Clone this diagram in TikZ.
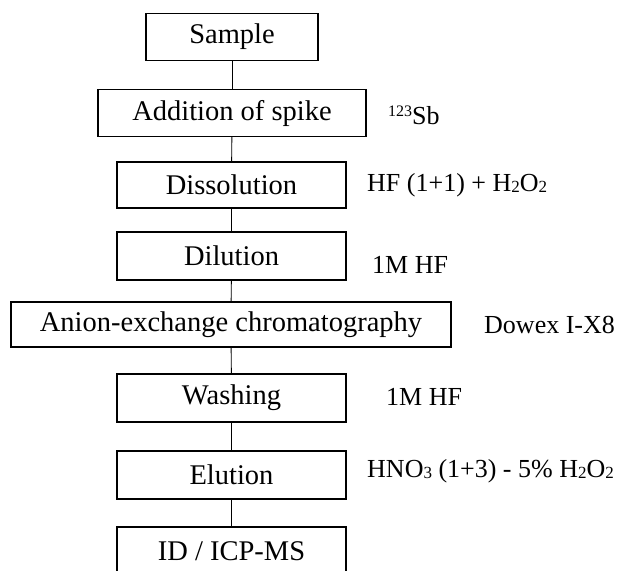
\documentclass[tikz,border=0pt]{standalone}
\usepackage{fontspec}
\setmainfont{Liberation Serif}
\newcommand\chemsub[1]{\raisebox{-1pt}{\fontsize{17}{17}\selectfont #1}}
\newcommand\isosup[1]{\raisebox{8pt}{\fontsize{16}{16}\selectfont #1}}
\begin{document}
\begin{tikzpicture}[x=1pt,y=-1pt,
  stepbox/.style={draw=black,line width=1.1pt,minimum height=47pt,inner sep=0pt,
     font=\fontsize{28.5}{30}\selectfont},
  conn/.style={draw=black,line width=0.9pt},
  reagent/.style={anchor=base west,inner sep=0pt,font=\fontsize{26}{28}\selectfont}]
\useasboundingbox (0,0) rectangle (617,570);
\clip (0,0) rectangle (617,570);
\node[stepbox,minimum width=172pt] (sample) at (232,37) {Sample};
\node[stepbox,minimum width=268pt] (spike) at (232,113) {Addition of spike};
\node[stepbox,minimum width=229pt,minimum height=46pt] (dissol) at (231.5,185) {Dissolution};
\node[stepbox,minimum width=229pt,minimum height=48pt] (dilut) at (231.5,256) {Dilution};
\node[stepbox,minimum width=440pt,minimum height=45pt] (anion) at (231,324.5) {Anion-exchange chromatography};
\node[stepbox,minimum width=229pt,minimum height=48pt] (wash) at (231.5,398) {Washing};
\node[stepbox,minimum width=229pt,minimum height=48pt] (elut) at (231.5,475) {Elution};
\node[stepbox,minimum width=229pt,minimum height=48pt] (icp) at (231.5,551) {ID / ICP-MS};
\draw[conn] (sample) -- (spike);
\draw[conn] (spike) -- (dissol);
\draw[conn] (dissol) -- (dilut);
\draw[conn] (dilut) -- (anion);
\draw[conn] (anion) -- (wash);
\draw[conn] (wash) -- (elut);
\draw[conn] (elut) -- (icp);
\node[reagent] (lspike) at (388,124) {\isosup{123}Sb};
\node[reagent] (ldissol) at (367,191) {HF (1+1) + H\chemsub{2}O\chemsub{2}};
\node[reagent] (ldilut) at (372,273) {1M HF};
\node[reagent] (lanion) at (484,333) {Dowex I-X8};
\node[reagent] (lwash) at (386,405) {1M HF};
\node[reagent] (lelut) at (367,477) {HNO\chemsub{3} (1+3) - 5\% H\chemsub{2}O\chemsub{2}};
\end{tikzpicture}
\end{document}
